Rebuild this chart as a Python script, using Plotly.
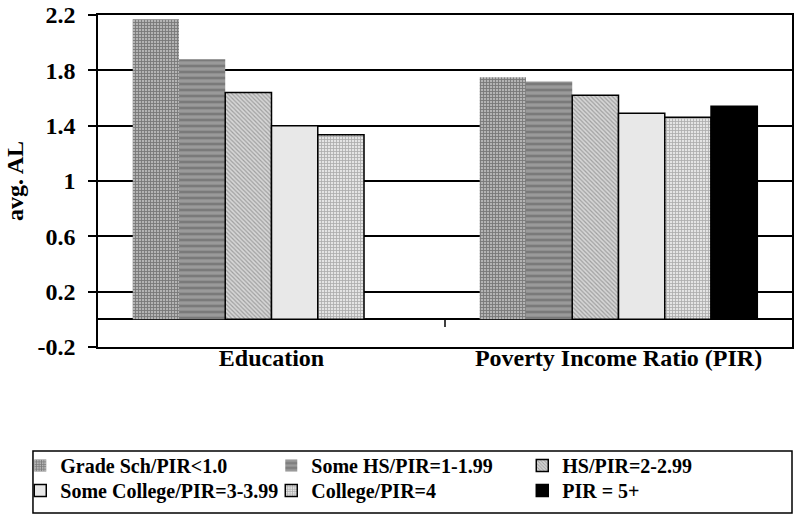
import plotly.graph_objects as go

categories = ["Education", "Poverty Income Ratio (PIR)"]
series_names = ["Grade Sch/PIR<1.0", "Some HS/PIR=1-1.99", "HS/PIR=2-2.99",
                "Some College/PIR=3-3.99", "College/PIR=4", "PIR = 5+"]
education_vals = [2.17, 1.88, 1.64, 1.40, 1.335, None]
pir_vals = [1.75, 1.72, 1.62, 1.49, 1.46, 1.54]
y_ticks = [-0.2, 0.2, 0.6, 1, 1.4, 1.8, 2.2]
y_tick_text = ["-0.2", "0.2", "0.6", "1", "1.4", "1.8", "2.2"]

FONT = "Liberation Serif, Times New Roman, serif"

styles = [
    dict(pattern=dict(shape="+", fgcolor="#3c3c3c", bgcolor="#b4b4b4", size=3, solidity=0.5), line=0),
    dict(pattern=dict(shape="-", fgcolor="#5a5a5a", bgcolor="#9a9a9a", size=6, solidity=0.45), line=0),
    dict(pattern=dict(shape="\\", fgcolor="#6a6a6a", bgcolor="#d6d6d6", size=3, solidity=0.4), line=1.5),
    dict(color="#e8e8e8", line=1.5),
    dict(pattern=dict(shape="+", fgcolor="#707070", bgcolor="#e4e4e4", size=3, solidity=0.45), line=1.5),
    dict(color="#000000", line=1.5),
]

fig = go.Figure()
for i, name in enumerate(series_names):
    s = styles[i]
    marker = dict(line=dict(color="black", width=s["line"]))
    if "pattern" in s:
        marker["color"] = s["pattern"]["bgcolor"]
        marker["pattern"] = s["pattern"]
    else:
        marker["color"] = s["color"]
    fig.add_trace(go.Bar(
        x=categories, y=[education_vals[i], pir_vals[i]], name=name,
        marker=marker, legend="legend" if i < 3 else "legend2",
    ))

legend_common = dict(
    orientation="h", xanchor="left", yanchor="middle",
    font=dict(family=FONT, size=20, color="black", weight="bold"),
    entrywidth=206, entrywidthmode="pixels",
    itemwidth=30, bgcolor="rgba(0,0,0,0)", borderwidth=0,
)

fig.update_layout(
    width=800, height=522,
    margin=dict(l=98, r=8, t=15, b=175),
    barmode="group", bargap=0.2, bargroupgap=0,
    plot_bgcolor="white", paper_bgcolor="white",
    font=dict(family=FONT, color="black", weight="bold"),
    showlegend=True,
    legend=dict(x=-0.112, y=-0.357, **legend_common),
    legend2=dict(x=-0.112, y=-0.432, **legend_common),
    xaxis=dict(
        showline=True, linecolor="black", linewidth=1.5, mirror=True,
        tickfont=dict(size=24, family=FONT, weight="bold"),
        ticks="", showgrid=False, automargin=False, ticklabelstandoff=-12,
    ),
    yaxis=dict(
        range=[-0.2, 2.2], tickvals=y_ticks, ticktext=y_tick_text,
        showline=True, linecolor="black", linewidth=1.5, mirror=True,
        showgrid=True, gridcolor="black", gridwidth=1.5,
        zeroline=True, zerolinecolor="black", zerolinewidth=1.5,
        tickfont=dict(size=24, family=FONT, weight="bold"),
        ticks="outside", ticklen=8, tickwidth=1.5, tickcolor="black",
        ticklabelstandoff=8, automargin=False,
    ),
    annotations=[dict(
        text="avg. AL", textangle=-90, xref="paper", yref="paper",
        x=-0.1196, y=0.5, xanchor="center", yanchor="middle", showarrow=False,
        font=dict(size=24, family=FONT, color="black", weight="bold"),
    )],
)

# category divider tick on the zero line
fig.add_shape(type="line", xref="x", yref="y", x0=0.5, x1=0.5, y0=0, y1=-0.055,
              line=dict(color="black", width=1.5))
# legend frame
fig.add_shape(type="rect", xref="paper", yref="paper",
              x0=-0.0937, x1=1.0, y0=-0.5, y1=-0.313,
              line=dict(color="black", width=1.5), fillcolor="rgba(0,0,0,0)", layer="below")

fig.write_html("out.html", config={"displayModeBar": False},
               post_script="document.body.style.margin='0px';document.body.style.overflow='hidden';")
